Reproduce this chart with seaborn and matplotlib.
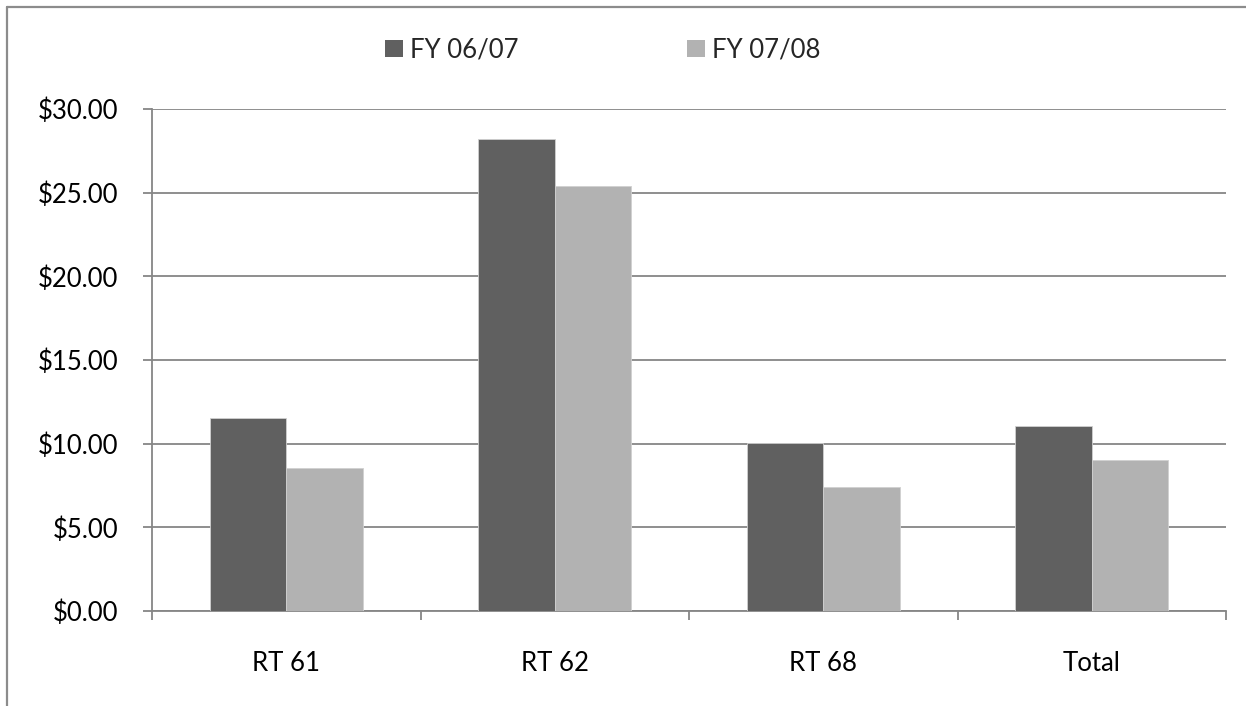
import matplotlib
matplotlib.use("Agg")
import matplotlib.pyplot as plt
from matplotlib.lines import Line2D
from matplotlib.patches import Patch
import seaborn as sns
import pandas as pd

categories = ["RT 61", "RT 62", "RT 68", "Total"]
series_names = ["FY 06/07", "FY 07/08"]
fy0607 = [11.52, 28.18, 10.02, 11.04]
fy0708 = [8.57, 25.40, 7.39, 9.04]
yticks = [0, 5, 10, 15, 20, 25, 30]
colors = ["#606060", "#b2b2b2"]

df = pd.DataFrame({
    "route": categories * 2,
    "series": [series_names[0]] * 4 + [series_names[1]] * 4,
    "value": fy0607 + fy0708,
})

sns.set_theme(style="white")
plt.rcParams["font.family"] = ["Lato", "DejaVu Sans"]

fs = 18.5
fig = plt.figure(figsize=(12.46, 7.06), dpi=100)
ax = fig.add_axes([152 / 1246, 1 - 611 / 706, (1226 - 152) / 1246, (611 - 109) / 706])

sns.barplot(data=df, x="route", y="value", hue="series", palette=colors,
            width=0.57, gap=0, ax=ax, legend=False, saturation=1,
            edgecolor="#d0d0d0", linewidth=0.6, zorder=3)

grid_c = "#868686"
ax.set_xlim(-0.5, 3.5)
ax.set_ylim(0, 30)
ax.set_yticks(yticks)
ax.set_yticklabels([f"${v:.2f}" for v in yticks])
ax.yaxis.grid(True, color=grid_c, linewidth=1.3, zorder=0)
ax.set_axisbelow(True)
ax.set_xlabel("")
ax.set_ylabel("")
for s in ["top", "right"]:
    ax.spines[s].set_visible(False)
for s in ["left", "bottom"]:
    ax.spines[s].set_color(grid_c)
    ax.spines[s].set_linewidth(1.3)

ax.set_xticks(range(len(categories)))
ax.set_xticklabels(categories)
ax.set_xticks([-0.5, 0.5, 1.5, 2.5, 3.5], minor=True)
ax.tick_params(axis="x", which="major", length=0, pad=29, labelsize=fs, labelcolor="black")
ax.tick_params(axis="x", which="minor", length=6.5, width=1.3, color=grid_c, direction="out", bottom=True)
ax.tick_params(axis="y", which="major", length=6.5, width=1.3, color=grid_c, direction="out",
               left=True, pad=18, labelsize=fs, labelcolor="black")

handles = [Patch(facecolor=c, edgecolor="none") for c in colors]
fig.legend(handles, series_names, loc="center", bbox_to_anchor=(603 / 1246, 1 - 50 / 706),
           ncol=2, frameon=False, fontsize=fs, handlelength=0.68, handleheight=0.68,
           handletextpad=0.3, columnspacing=6.55)

frame_c = "#8c8c8c"
fig.add_artist(Line2D([7 / 1246, 1.0], [1 - 7 / 706, 1 - 7 / 706], color=frame_c, linewidth=1.6,
                      transform=fig.transFigure))
fig.add_artist(Line2D([7 / 1246, 7 / 1246], [0, 1 - 7 / 706], color=frame_c, linewidth=1.6,
                      transform=fig.transFigure))

fig.savefig("out.png", dpi=100)
